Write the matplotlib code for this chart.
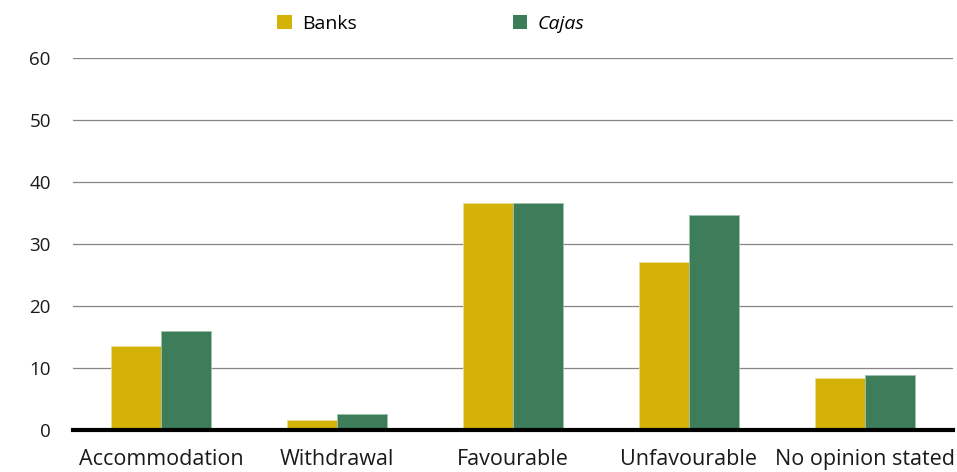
import matplotlib
matplotlib.use("Agg")
import matplotlib.pyplot as plt
import numpy as np

categories = ["Accommodation", "Withdrawal", "Favourable", "Unfavourable", "No opinion stated"]
banks = [13.5, 1.6, 36.7, 27.1, 8.4]
cajas = [16.0, 2.6, 36.7, 34.7, 8.8]
series_names = ["Banks", "Cajas"]
yticks = [0, 10, 20, 30, 40, 50, 60]

BANK_COLOR = "#D4B207"
CAJA_COLOR = "#3D7D59"

plt.rcParams["font.family"] = ["Open Sans", "DejaVu Sans"]

fig = plt.figure(figsize=(9.57, 4.72), dpi=100)
ax = fig.add_axes([73 / 957, 42 / 472, (953 - 73) / 957, (430 - 58.3) / 472])

x = np.arange(len(categories))
w = 0.284
b1 = ax.bar(x - w / 2, banks, w, color=BANK_COLOR, edgecolor="#e8dc9a", linewidth=0.6,
            label=series_names[0], zorder=3)
b2 = ax.bar(x + w / 2, cajas, w, color=CAJA_COLOR, edgecolor="#9ec3ac", linewidth=0.6,
            label=series_names[1], zorder=3)

ax.set_xlim(-0.5, len(categories) - 0.5)
ax.set_ylim(0, 60)
ax.set_yticks(yticks)
ax.set_yticklabels([str(t) for t in yticks])
ax.yaxis.grid(True, color="#858585", linewidth=0.9, zorder=0)
ax.set_axisbelow(True)

for side in ["top", "right", "left"]:
    ax.spines[side].set_visible(False)
ax.spines["bottom"].set_linewidth(3)
ax.spines["bottom"].set_color("black")
ax.spines["bottom"].set_zorder(4)

ax.set_xticks(x)
ax.set_xticklabels(categories)
ax.tick_params(axis="x", length=0, pad=14, labelsize=15.5, colors="#1a1a1a")
ax.tick_params(axis="y", length=0, pad=16, labelsize=13.5, colors="#1a1a1a")

leg = fig.legend(handles=[b1, b2], labels=series_names, loc="center",
                 bbox_to_anchor=(431 / 957, 1 - 24 / 472), ncol=2, frameon=False,
                 fontsize=14, handlelength=0.75, handleheight=0.75,
                 handletextpad=0.55, columnspacing=8.0)
for patch in leg.get_patches():
    patch.set_edgecolor("none")
leg.get_texts()[1].set_fontstyle("italic")

fig.savefig("out.png", dpi=100)
